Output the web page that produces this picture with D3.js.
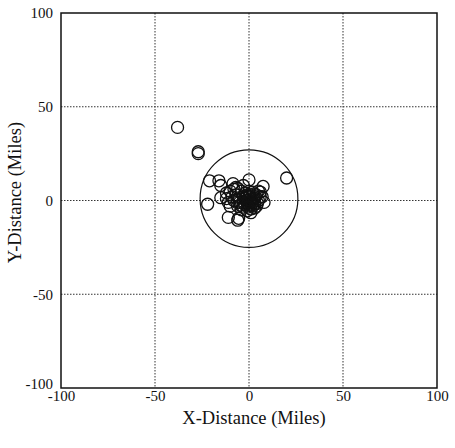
<!DOCTYPE html>
<html>
<head>
<meta charset="utf-8">
<script src="https://d3js.org/d3.v7.min.js"></script>
<style>
body { margin: 0; background: #fff; }
svg text { font-family: "Liberation Serif", "Times New Roman", serif; fill: #111; }
</style>
</head>
<body>
<svg id="chart" width="455" height="448"></svg>
<script>
// tick values for both axes
var ticks = [-100, -50, 0, 50, 100];

// point positions in miles
var xs = [-38, -27, -27, 20, -21, -16, -15, 0, 7.5, 6, -22, -11, -6, -5.5, -8.5, -15, -12,
  -10, -8, -6, -4, -2, 0, 2, 4, 6, -9, -7, -5, -3, -1, 1, 3, 5, -11, -8, -5, -3, -1, 1, 3,
  -6, -3, 0, 2, -4, -1, 1, 4, -2, 2, 0, -7, -3, 5, 1, -12, -10,
  -1, 0.5, 2.5, 4.5, -2.5, -0.5, 1.5, 3.5, -1.5, 0.5, 2.5, 7, 8, -4.5, -6.5, 3, -0.5];
var ys = [39, 26, 25, 12, 10.5, 10.5, 8, 11, 7.5, 4.5, -2, -9, -10.5, -9.5, 9, 1.5, 4,
  5, 6, 6.5, 5, 4, 5, 4.5, 3, 2, 2, 3, 1.5, 2, 3, 1, 1, 0, -1, 0, -1, -0.5, 0, -1, -2,
  -3, -3.5, -2.5, -3, -5, -5.5, -4.5, -3, 1, -1, 2, 7, 8, 5, -6.5, 1, -3,
  -1.5, -0.5, 0.5, -1.5, -2, 0.5, -2, 2, 2.5, 3, 3.5, 2, -1, -2.5, -1, -4, -3.5];

// the surrounding circle (centre and radius, miles)
var ringCx = [0], ringCy = [1], ringR = [26];

var margin = {left: 61, top: 13, right: 18, bottom: 60};
var W = 455, H = 448;
var svg = d3.select("#chart");

var x = d3.scaleLinear().domain([-100, 100]).range([margin.left, W - margin.right]);
var y = d3.scaleLinear().domain([-100, 100]).range([H - margin.bottom, margin.top]);

// dotted grid
svg.append("g").selectAll("line.gx")
  .data(ticks.slice(1, -1)).enter().append("line")
  .attr("x1", function(d) { return x(d); }).attr("x2", function(d) { return x(d); })
  .attr("y1", y(100)).attr("y2", y(-100))
  .attr("stroke", "#333").attr("stroke-width", 1).attr("stroke-dasharray", "1.5,1.5");
svg.append("g").selectAll("line.gy")
  .data(ticks.slice(1, -1)).enter().append("line")
  .attr("y1", function(d) { return y(d); }).attr("y2", function(d) { return y(d); })
  .attr("x1", x(-100)).attr("x2", x(100))
  .attr("stroke", "#333").attr("stroke-width", 1).attr("stroke-dasharray", "1.5,1.5");

// axes (plain hyphen minus, as in the original)
var fmt = function(d) { return String(d); };
var xAxis = d3.axisBottom(x).tickValues(ticks).tickFormat(fmt).tickSize(0).tickPadding(2);
var yAxis = d3.axisLeft(y).tickValues(ticks).tickFormat(fmt).tickSize(0).tickPadding(8);
svg.append("g").attr("transform", "translate(0," + y(-100) + ")").call(xAxis)
  .call(function(g) { g.select(".domain").remove(); })
  .selectAll("text").style("font-size", "15px").style("font-family", "Liberation Serif");
svg.append("g").attr("transform", "translate(" + x(-100) + ",0)").call(yAxis)
  .call(function(g) { g.select(".domain").remove(); })
  .selectAll("text").style("font-size", "15px").style("font-family", "Liberation Serif")
  .attr("dy", function(d) { return d === -100 ? "0" : "0.32em"; });

// frame
svg.append("rect")
  .attr("x", x(-100)).attr("y", y(100))
  .attr("width", x(100) - x(-100)).attr("height", y(-100) - y(100))
  .attr("fill", "none").attr("stroke", "#111").attr("stroke-width", 1.5);

// big circle
svg.append("ellipse")
  .attr("cx", x(ringCx[0])).attr("cy", y(ringCy[0]))
  .attr("rx", x(ringR[0]) - x(0)).attr("ry", y(0) - y(ringR[0]))
  .attr("fill", "none").attr("stroke", "#111").attr("stroke-width", 1.2);

// points
svg.append("g").selectAll("circle")
  .data(xs).enter().append("circle")
  .attr("cx", function(d) { return x(d); })
  .attr("cy", function(d, i) { return y(ys[i]); })
  .attr("r", 6)
  .attr("fill", "none").attr("stroke", "#111").attr("stroke-width", 1.3);

// axis titles
svg.append("text")
  .attr("x", (x(-100) + x(100)) / 2 + 5).attr("y", 424)
  .attr("text-anchor", "middle").style("font-size", "18.5px")
  .text("X-Distance (Miles)");
svg.append("text")
  .attr("transform", "translate(21," + (y(0) - 8) + ") rotate(-90)")
  .attr("text-anchor", "middle").style("font-size", "18.5px")
  .text("Y-Distance (Miles)");
</script>
</body>
</html>
